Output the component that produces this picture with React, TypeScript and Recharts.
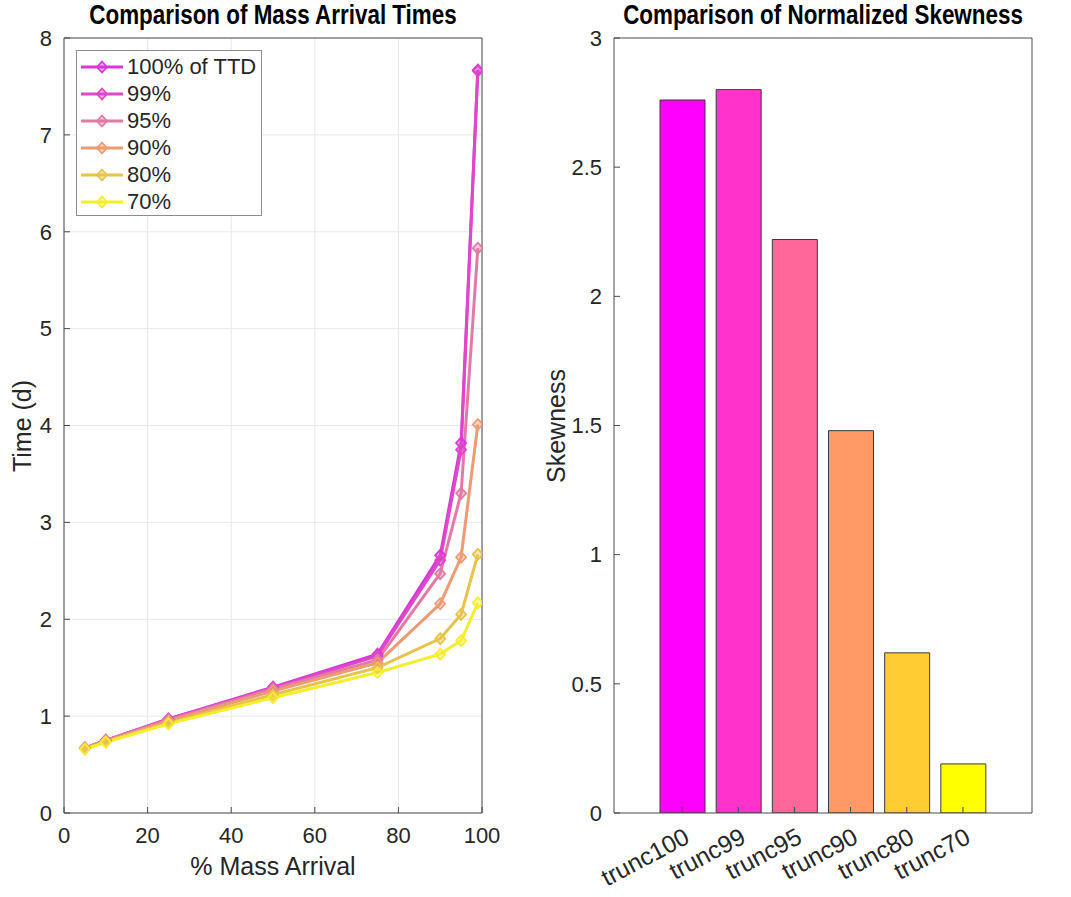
import React from 'react'
import {
  LineChart,
  Line,
  BarChart,
  Bar,
  Cell,
  XAxis,
  YAxis,
  CartesianGrid
} from 'recharts'

// % of mass arrived, x positions of the breakthrough points
const pctArrival = [5, 10, 25, 50, 75, 90, 95, 99]

// arrival time (d) for each truncation of the TTD
const t100 = [0.67, 0.75, 0.97, 1.30, 1.64, 2.66, 3.82, 7.67]
const t99 = [0.67, 0.75, 0.97, 1.29, 1.62, 2.61, 3.75, 7.66]
const t95 = [0.67, 0.75, 0.96, 1.28, 1.58, 2.47, 3.30, 5.83]
const t90 = [0.67, 0.74, 0.95, 1.26, 1.55, 2.16, 2.64, 4.01]
const t80 = [0.66, 0.74, 0.93, 1.22, 1.50, 1.80, 2.05, 2.67]
const t70 = [0.66, 0.73, 0.92, 1.19, 1.45, 1.64, 1.78, 2.17]

const seriesNames = ['100% of TTD', '99%', '95%', '90%', '80%', '70%']
const seriesKeys = ['t100', 't99', 't95', 't90', 't80', 't70']
const seriesValues = [t100, t99, t95, t90, t80, t70]
const lineColors = ['#d936d9', '#df48c9', '#e37aa6', '#ee9a72', '#e9c24a', '#f4ee2c']

// skewness bars
const truncLabels = ['trunc100', 'trunc99', 'trunc95', 'trunc90', 'trunc80', 'trunc70']
const skewness = [2.76, 2.80, 2.22, 1.48, 0.62, 0.19]
const barColors = ['#ff00ff', '#ff33cc', '#ff6699', '#ff9966', '#ffcc33', '#ffff00']

const xTicks = [0, 20, 40, 60, 80, 100]
const yTicks = [0, 1, 2, 3, 4, 5, 6, 7, 8]
const skewTicks = [0, 0.5, 1, 1.5, 2, 2.5, 3]

const FONT = '"Liberation Sans", Arial, Helvetica, sans-serif'
const AXIS = '#4a4a4a'
const TEXT = '#262626'

const arrivalData = pctArrival.map((p, i) => {
  const row: Record<string, number> = { pct: p }
  seriesKeys.forEach((k, j) => {
    row[k] = seriesValues[j][i]
  })
  return row
})

const skewData = truncLabels.map((name, i) => ({ name, skew: skewness[i] }))

const Diamond = (props: any) => {
  const { cx, cy, stroke } = props
  if (cx == null || cy == null) return null
  return (
    <path
      d={`M${cx},${cy - 5.5}L${cx + 5},${cy}L${cx},${cy + 5.5}L${cx - 5},${cy}Z`}
      fill={stroke}
      fillOpacity={0.4}
      stroke={stroke}
      strokeWidth={1.8}
    />
  )
}

const TimeLegend = () => (
  <div
    style={{
      position: 'absolute',
      left: 76,
      top: 50,
      width: 184,
      height: 162,
      border: '1px solid #8c8c8c',
      background: '#fff',
      paddingTop: 2,
      fontFamily: FONT,
      fontSize: 22,
      color: TEXT
    }}
  >
    {seriesNames.map((n, i) => (
      <div key={n} style={{ display: 'flex', alignItems: 'center', height: 27 }}>
        <svg width={48} height={20} style={{ marginLeft: 2 }}>
          <line x1={2} y1={10} x2={44} y2={10} stroke={lineColors[i]} strokeWidth={3} />
          <path
            d="M23,4.5L28,10L23,15.5L18,10Z"
            fill={lineColors[i]}
            fillOpacity={0.4}
            stroke={lineColors[i]}
            strokeWidth={1.8}
          />
        </svg>
        <span style={{ lineHeight: '22px' }}>{n}</span>
      </div>
    ))}
  </div>
)

const TruncTick = (props: any) => {
  const { x, y, payload } = props
  const tx = x + 9
  const ty = y + 29
  return (
    <text
      x={tx}
      y={ty}
      transform={`rotate(-28 ${tx} ${ty})`}
      textAnchor="end"
      fontSize={24.5}
      fontFamily={FONT}
      fill={TEXT}
    >
      {payload.value}
    </text>
  )
}

const tickStyle = { fontSize: 22, fontFamily: FONT, fill: TEXT }

const titleStyle: React.CSSProperties = {
  position: 'absolute',
  fontFamily: FONT,
  fontWeight: 'bold',
  fontSize: 27,
  lineHeight: '31px',
  color: '#000',
  whiteSpace: 'nowrap',
  transform: 'translateX(-50%) scaleX(0.83)'
}

const labelStyle: React.CSSProperties = {
  position: 'absolute',
  fontFamily: FONT,
  fontSize: 25,
  color: TEXT,
  whiteSpace: 'nowrap'
}

export default function App() {
  return (
    <div style={{ position: 'absolute', left: 0, top: 0, width: 1071, height: 897, background: '#fff' }}>
      <div style={{ ...titleStyle, left: 273, top: 0 }}>Comparison of Mass Arrival Times</div>
      <div style={{ ...titleStyle, left: 823, top: 0 }}>Comparison of Normalized Skewness</div>

      <div style={{ position: 'absolute', left: 0, top: 0 }}>
        <LineChart
          width={540}
          height={897}
          data={arrivalData}
          margin={{ top: 37, right: 57, bottom: 54, left: 14 }}
        >
          <CartesianGrid stroke="#e8e8e8" strokeWidth={1} />
          <XAxis
            dataKey="pct"
            type="number"
            domain={[0, 100]}
            ticks={xTicks}
            height={30}
            stroke={AXIS}
            tick={tickStyle}
            tickSize={-6}
            tickMargin={20}
            allowDataOverflow
          />
          <XAxis
            xAxisId="top"
            orientation="top"
            type="number"
            domain={[0, 100]}
            ticks={xTicks}
            height={1}
            stroke={AXIS}
            tick={false}
            tickSize={-6}
            allowDataOverflow
          />
          <YAxis
            type="number"
            domain={[0, 8]}
            ticks={yTicks}
            width={50}
            stroke={AXIS}
            tick={tickStyle}
            tickSize={-6}
            tickMargin={18}
            allowDataOverflow
          />
          <YAxis
            yAxisId="right"
            orientation="right"
            type="number"
            domain={[0, 8]}
            ticks={yTicks}
            width={1}
            stroke={AXIS}
            tick={false}
            tickSize={-6}
            allowDataOverflow
          />
          {seriesKeys.map((k, i) => (
            <Line
              key={k}
              dataKey={k}
              name={seriesNames[i]}
              type="linear"
              stroke={lineColors[i]}
              strokeWidth={3}
              dot={<Diamond />}
              activeDot={false}
              isAnimationActive={false}
            />
          ))}
        </LineChart>
        <TimeLegend />
      </div>

      <div style={{ position: 'absolute', left: 540, top: 0 }}>
        <BarChart
          width={531}
          height={897}
          data={skewData}
          margin={{ top: 37, right: 38, bottom: 54, left: 24 }}
          barCategoryGap={0}
        >
          <XAxis
            dataKey="name"
            height={30}
            stroke={AXIS}
            tick={<TruncTick />}
            tickSize={-6}
            tickMargin={6}
            interval={0}
            padding={{ left: 40, right: 41 }}
          />
          <XAxis
            xAxisId="top"
            dataKey="name"
            orientation="top"
            height={1}
            stroke={AXIS}
            tick={false}
            tickSize={-6}
            interval={0}
            padding={{ left: 40, right: 41 }}
          />
          <YAxis
            type="number"
            domain={[0, 3]}
            ticks={skewTicks}
            width={50}
            stroke={AXIS}
            tick={tickStyle}
            tickSize={-6}
            tickMargin={18}
            allowDataOverflow
          />
          <YAxis
            yAxisId="right"
            orientation="right"
            type="number"
            domain={[0, 3]}
            ticks={skewTicks}
            width={1}
            stroke={AXIS}
            tick={false}
            tickSize={-6}
            allowDataOverflow
          />
          <Bar dataKey="skew" barSize={45} stroke="#3a3a3a" strokeWidth={1} isAnimationActive={false}>
            {skewData.map((d, i) => (
              <Cell key={d.name} fill={barColors[i]} />
            ))}
          </Bar>
        </BarChart>
      </div>

      <div style={{ ...labelStyle, left: 273, top: 852, transform: 'translateX(-50%)' }}>% Mass Arrival</div>
      <div
        style={{
          ...labelStyle,
          left: 22,
          top: 426,
          transform: 'translate(-50%, -50%) rotate(-90deg)'
        }}
      >
        Time (d)
      </div>
      <div
        style={{
          ...labelStyle,
          left: 556,
          top: 426,
          transform: 'translate(-50%, -50%) rotate(-90deg)'
        }}
      >
        Skewness
      </div>
    </div>
  )
}
